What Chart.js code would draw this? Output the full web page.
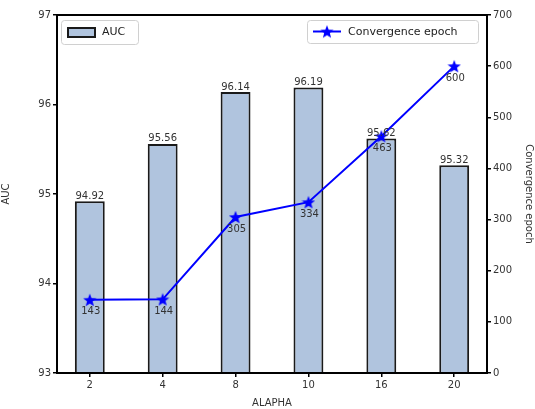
<!DOCTYPE html>
<html>
<head>
<meta charset="utf-8">
<script src="https://cdn.jsdelivr.net/npm/chart.js@4/dist/chart.umd.min.js"></script>
<style>
  html, body { margin: 0; padding: 0; background: #fff; }
  #wrap { width: 535px; height: 409px; }
</style>
</head>
<body>
<div id="wrap"><canvas id="c" width="535" height="409"></canvas></div>
<script>
// Hyper-parameter sweep: AUC (bars, left axis) and convergence epoch (line, right axis)
const alaphaValues = ['2', '4', '8', '10', '16', '20'];
const aucValues = [94.92, 95.56, 96.14, 96.19, 95.62, 95.32];
const epochValues = [143, 144, 305, 334, 463, 600];
const aucTicks = [93, 94, 95, 96, 97];
const epochTicks = [0, 100, 200, 300, 400, 500, 600, 700];

const FONT = '"DejaVu Sans", sans-serif';
const BAR_FILL = '#b0c4de';
const BAR_EDGE = '#1a1a1a';
const LINE_BLUE = '#0000ff';
const X_MARGIN = 0.45; // side margin of the category axis, in category units

// filled five-point star used as the line marker
function makeStar(size, color) {
  const cv = document.createElement('canvas');
  cv.width = size; cv.height = size;
  const g = cv.getContext('2d');
  const cx = size / 2, cy = size / 2 + size * 0.05;
  const R = size / 2, r = R * 0.42;
  g.beginPath();
  for (let i = 0; i < 10; i++) {
    const rad = i % 2 === 0 ? R : r;
    const a = -Math.PI / 2 + i * Math.PI / 5;
    const x = cx + rad * Math.cos(a), y = cy + rad * Math.sin(a);
    if (i === 0) g.moveTo(x, y); else g.lineTo(x, y);
  }
  g.closePath();
  g.fillStyle = color;
  g.fill();
  return cv;
}
const starImg = makeStar(14, LINE_BLUE);

// tighter side margins on the category axis than the default half category
const xMargins = {
  id: 'xMargins',
  afterLayout(chart) {
    const s = chart.scales.x;
    s._startValue = -X_MARGIN;
    s._valueRange = (alaphaValues.length - 1) + 2 * X_MARGIN;
  }
};

// frame, value labels and the two legends
const decorations = {
  id: 'decorations',
  afterDatasetsDraw(chart) {
    const ctx = chart.ctx;
    const a = chart.chartArea;
    ctx.save();
    ctx.font = '10px ' + FONT;
    ctx.fillStyle = '#333';
    ctx.textAlign = 'center';
    // bar values above each bar
    const barMeta = chart.getDatasetMeta(0);
    barMeta.data.forEach((el, i) => {
      ctx.textBaseline = 'bottom';
      ctx.fillText(aucValues[i].toFixed(2), el.x, el.y);
    });
    // epoch values below each marker
    const lineMeta = chart.getDatasetMeta(1);
    lineMeta.data.forEach((el, i) => {
      ctx.textBaseline = 'top';
      ctx.fillText(String(epochValues[i]), el.x + 1, el.y + 7);
    });
    // plot frame
    ctx.strokeStyle = '#000';
    ctx.lineWidth = 2;
    ctx.strokeRect(a.left, a.top, a.right - a.left, a.bottom - a.top);

    // legend helper
    function frame(x, y, w, h) {
      ctx.fillStyle = 'rgba(255,255,255,0.85)';
      ctx.strokeStyle = '#d0d0d0';
      ctx.lineWidth = 1;
      ctx.beginPath();
      ctx.roundRect(x + 0.5, y + 0.5, w, h, 3);
      ctx.fill();
      ctx.stroke();
    }
    ctx.font = '11px ' + FONT;
    ctx.textAlign = 'left';
    ctx.textBaseline = 'middle';
    // AUC legend
    frame(a.left + 4, a.top + 5, 77, 24);
    ctx.fillStyle = BAR_FILL;
    ctx.fillRect(a.left + 11, a.top + 13, 27, 9);
    ctx.strokeStyle = BAR_EDGE;
    ctx.lineWidth = 2;
    ctx.strokeRect(a.left + 11, a.top + 13, 27, 9);
    ctx.fillStyle = '#222';
    ctx.fillText('AUC', a.left + 45, a.top + 17.5);
    // epoch legend
    const lx = a.right - 180;
    frame(lx, a.top + 5, 171, 23);
    ctx.strokeStyle = LINE_BLUE;
    ctx.lineWidth = 2;
    ctx.beginPath();
    ctx.moveTo(lx + 6, a.top + 16.5);
    ctx.lineTo(lx + 34, a.top + 16.5);
    ctx.stroke();
    ctx.drawImage(starImg, lx + 20 - 7, a.top + 16.5 - 7);
    ctx.fillStyle = '#222';
    ctx.fillText('Convergence epoch', lx + 41, a.top + 17);
    ctx.restore();
  }
};

new Chart(document.getElementById('c'), {
  data: {
    labels: alaphaValues,
    datasets: [
      {
        type: 'bar',
        label: 'AUC',
        data: aucValues,
        yAxisID: 'y',
        backgroundColor: BAR_FILL,
        borderColor: BAR_EDGE,
        borderWidth: 2,
        borderSkipped: false,
        categoryPercentage: 1.0,
        barPercentage: 0.41,
        order: 2
      },
      {
        type: 'line',
        label: 'Convergence epoch',
        data: epochValues,
        yAxisID: 'y1',
        borderColor: LINE_BLUE,
        backgroundColor: LINE_BLUE,
        borderWidth: 2,
        pointStyle: starImg,
        pointRadius: 7,
        tension: 0,
        order: 1
      }
    ]
  },
  options: {
    responsive: false,
    animation: false,
    layout: { padding: { top: 15, left: 0, right: 0, bottom: 0 } },
    plugins: { legend: { display: false }, tooltip: { enabled: false } },
    scales: {
      x: {
        offset: true,
        grid: { display: true, offset: false, drawOnChartArea: false, tickLength: 4, color: '#000', lineWidth: 1.5 },
        border: { display: false },
        ticks: { color: '#333', font: { family: FONT, size: 10 }, padding: 2 },
        title: { display: true, text: 'ALAPHA', color: '#333', font: { family: FONT, size: 10 }, padding: { top: 2, bottom: 0 } },
        afterFit(s) { s.height = 36; }
      },
      y: {
        position: 'left',
        min: 93, max: 97,
        afterBuildTicks(s) { s.ticks = aucTicks.map(v => ({ value: v })); },
        grid: { display: true, drawOnChartArea: false, tickLength: 4, color: '#000', lineWidth: 1.5 },
        border: { display: false },
        ticks: { color: '#333', font: { family: FONT, size: 10 }, padding: 2 },
        title: { display: true, text: 'AUC', color: '#333', font: { family: FONT, size: 10 }, padding: 0 },
        afterFit(s) { s.width = 57; }
      },
      y1: {
        position: 'right',
        min: 0, max: 700,
        afterBuildTicks(s) { s.ticks = epochTicks.map(v => ({ value: v })); },
        grid: { display: true, drawOnChartArea: false, tickLength: 4, color: '#000', lineWidth: 1.5 },
        border: { display: false },
        ticks: { color: '#333', font: { family: FONT, size: 10 }, padding: 2 },
        title: { display: true, text: 'Convergence epoch', color: '#333', font: { family: FONT, size: 10 }, padding: 0 },
        afterFit(s) { s.width = 48; }
      }
    }
  },
  plugins: [xMargins, decorations]
});
</script>
</body>
</html>
